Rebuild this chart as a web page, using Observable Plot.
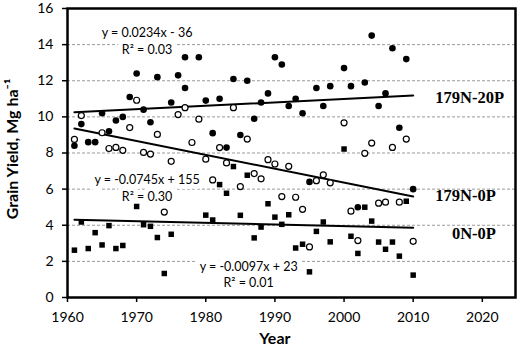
<!DOCTYPE html>
<html><head><meta charset="utf-8">
<script src="https://cdn.jsdelivr.net/npm/d3@7"></script>
<script src="https://cdn.jsdelivr.net/npm/@observablehq/plot@0.6"></script>
<style>html,body{margin:0;padding:0;background:#fff} svg{display:block}</style>
</head><body><div id="chart"></div>
<script>
// 179N-20P (filled circles)
const yearsN20P = [1961,1962,1963,1964,1965,1966,1967,1968,1969,1970,1971,1972,1973,1975,1976,1977,1977,1979,1980,1981,1982,1983,1984,1985,1986,1987,1988,1989,1990,1991,1992,1993,1994,1995,1996,1997,1998,2000,2001,2002,2003,2004,2005,2006,2007,2008,2009,2010];
const yieldN20P = [8.4,9.6,8.6,8.6,10.2,9.2,9.8,10.0,11.1,12.4,10.4,9.7,12.2,10.8,12.3,13.3,11.6,13.3,10.9,9.1,11.0,8.3,12.1,9.0,12.0,9.9,10.8,11.3,13.3,12.9,10.6,11.0,10.2,6.4,11.6,10.6,11.7,12.7,11.7,5.0,11.9,14.5,10.6,11.3,13.8,9.4,13.2,6.0];
// 179N-0P (open circles)
const yearsN0P = [1961,1962,1965,1966,1967,1968,1969,1970,1971,1972,1973,1974,1975,1976,1977,1978,1979,1980,1981,1982,1983,1984,1985,1986,1987,1988,1989,1990,1991,1992,1993,1994,1995,1996,1997,1998,2000,2001,2002,2003,2004,2005,2006,2007,2008,2009,2010];
const yieldN0P = [8.75,10.07,9.12,8.25,8.31,8.15,9.41,10.92,8.03,7.94,9.03,4.73,7.54,10.13,10.51,8.58,9.87,7.66,6.51,8.3,7.45,10.51,6.14,8.77,6.86,6.57,7.63,7.39,5.59,7.26,5.55,4.88,2.8,6.47,6.79,6.35,9.67,4.78,3.15,7.98,8.55,5.22,5.28,8.31,5.28,8.77,3.11];
// 0N-0P (filled squares; 1969 and 1976-1978 sit behind the equation box)
const years0N0P = [1961,1962,1963,1964,1965,1966,1967,1968,1969,1970,1971,1972,1973,1974,1975,1976,1977,1978,1980,1981,1982,1983,1984,1985,1986,1987,1988,1989,1990,1991,1992,1993,1994,1995,1996,1997,1998,2000,2001,2002,2003,2004,2005,2006,2007,2008,2009,2010];
const yield0N0P = [2.62,4.18,2.71,3.59,2.91,3.98,2.71,2.88,5.7,5.04,4.03,3.94,3.32,1.33,3.5,6.6,6.5,6.6,4.56,4.29,6.25,5.77,7.25,4.55,6.77,3.3,3.9,5.19,4.45,4.05,4.58,2.74,2.95,1.42,3.66,4.18,3.08,8.22,3.39,2.44,5.0,4.23,3.07,2.67,3.07,2.29,5.33,1.24];

const seriesNames = ["179N-20P", "179N-0P", "0N-0P"];
const equations = ["y = 0.0234x - 36\nR² = 0.03", "y = -0.0745x + 155\nR² = 0.30", "y = -0.0097x + 23\nR² = 0.01"];
const xTicks = [1960, 1970, 1980, 1990, 2000, 2010, 2020];
const yTicks = [0, 2, 4, 6, 8, 10, 12, 14, 16];

const rows = (yrs, vals) => yrs.map((year, i) => ({year, value: vals[i]}));
const A = rows(yearsN20P, yieldN20P);
const B = rows(yearsN0P, yieldN0P);
const C = rows(years0N0P, yield0N0P);

const plot = Plot.plot({
  width: 520, height: 359,
  marginLeft: 67, marginRight: 5, marginTop: 8, marginBottom: 62,
  style: {fontFamily: "Lato, 'Liberation Sans', sans-serif", fontSize: "14px", color: "black", background: "white"},
  x: {domain: [1960, 2024.8]},
  y: {domain: [0, 16]},
  marks: [
    Plot.gridY({ticks: yTicks.slice(1, -1), stroke: "#9a9a9a", strokeOpacity: 1, strokeDasharray: "3,2"}),
    Plot.axisX({ticks: xTicks, tickFormat: d => String(d), tickSize: 5, tickPadding: 10, label: null, strokeWidth: 1.5}),
    Plot.axisY({ticks: yTicks, tickSize: 5, tickPadding: 9, label: null, strokeWidth: 1.5}),
    Plot.linearRegressionY(A, {x: "year", y: "value", stroke: "black", strokeWidth: 2, ci: 0}),
    Plot.linearRegressionY(B, {x: "year", y: "value", stroke: "black", strokeWidth: 2, ci: 0}),
    Plot.linearRegressionY(C, {x: "year", y: "value", stroke: "black", strokeWidth: 2, ci: 0}),
    Plot.dot(C, {x: "year", y: "value", symbol: "square", r: 3.1, fill: "black"}),
    Plot.dot(B, {x: "year", y: "value", r: 3, fill: "white", stroke: "black", strokeWidth: 1.2}),
    Plot.dot(A, {x: "year", y: "value", r: 3.3, fill: "black"}),
    Plot.text(equations, {x: [1971.5, 1971.5, 1986.2], y: [14.24, 6.1, 1.33], text: d => d,
      fontSize: 12.5, lineHeight: 1.3, fill: "black", stroke: "white", strokeWidth: 10, strokeLinejoin: "round", paintOrder: "stroke"}),
    Plot.text(seriesNames, {x: [2013.2, 2013.2, 2015.6], y: [11.06, 5.65, 3.55], text: d => d, textAnchor: "start",
      fontFamily: "'Liberation Serif', serif", fontWeight: "bold", fontSize: 16.5, fill: "black"}),
    Plot.text(["Year"], {x: [1990], frameAnchor: "bottom", dy: 46, text: d => d, fontWeight: "bold", fontSize: 16, fill: "black"}),
    Plot.text(["Grain Yield, Mg ha⁻¹"], {frameAnchor: "middle", textAnchor: "middle", rotate: -90, dx: -279, dy: -4, text: d => d, fontWeight: "bold", fontSize: 16, fill: "black"}),
    Plot.frame({stroke: "black", strokeWidth: 2.5})
  ]
});
document.getElementById("chart").append(plot);
</script>
</body></html>
